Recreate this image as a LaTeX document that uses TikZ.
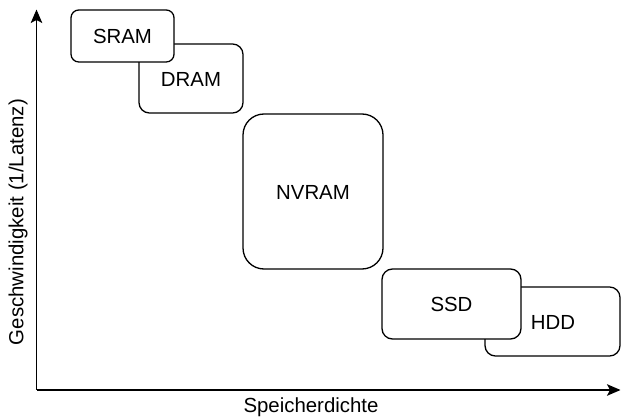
\documentclass[tikz,border=0pt]{standalone}
\usepackage{fontspec}
\setmainfont{Liberation Sans}
\usetikzlibrary{arrows.meta}
\begin{document}
\begin{tikzpicture}[x=1pt, y=-1pt,
  every node/.style={font=\fontsize{20.4}{24}\selectfont, inner sep=0pt},
  memory/.style={draw=black, line width=1.3pt, fill=white},
  axis/.style={line width=1.3pt, -{Stealth[length=13.5pt, width=11.5pt, inset=3pt]}}]
  \useasboundingbox (0,0) rectangle (621,419);

  % memory technologies, back boxes first
  \draw[memory, rounded corners=10.4pt] (139,44) rectangle (243,113);
  \node (dram) at (191,79) {DRAM};
  \draw[memory, rounded corners=7.8pt] (71,10) rectangle (174,62);
  \node (sram) at (122.5,36) {SRAM};

  \draw[memory, rounded corners=21pt] (243,114) rectangle (383,269);
  \node (nvram) at (313,192) {NVRAM};

  \draw[memory, rounded corners=10.4pt] (485,287) rectangle (620,356);
  \node (hdd) at (553,322) {HDD};
  \draw[memory, rounded corners=10.5pt] (382,269) rectangle (521,339);
  \node (ssd) at (451.5,304.5) {SSD};

  % axes
  \coordinate (origin) at (36.5,390);
  \coordinate (ytip) at (36.5,9.5);
  \coordinate (xtip) at (620.5,390);
  \draw[axis] (origin) -- (ytip);
  \draw[axis] (origin) -- (xtip);

  \node (xlabel) at (311,407.5) {Speicherdichte};
  \node[rotate=90] (ylabel) at (18,222) {Geschwindigkeit (1/Latenz)};
\end{tikzpicture}
\end{document}
